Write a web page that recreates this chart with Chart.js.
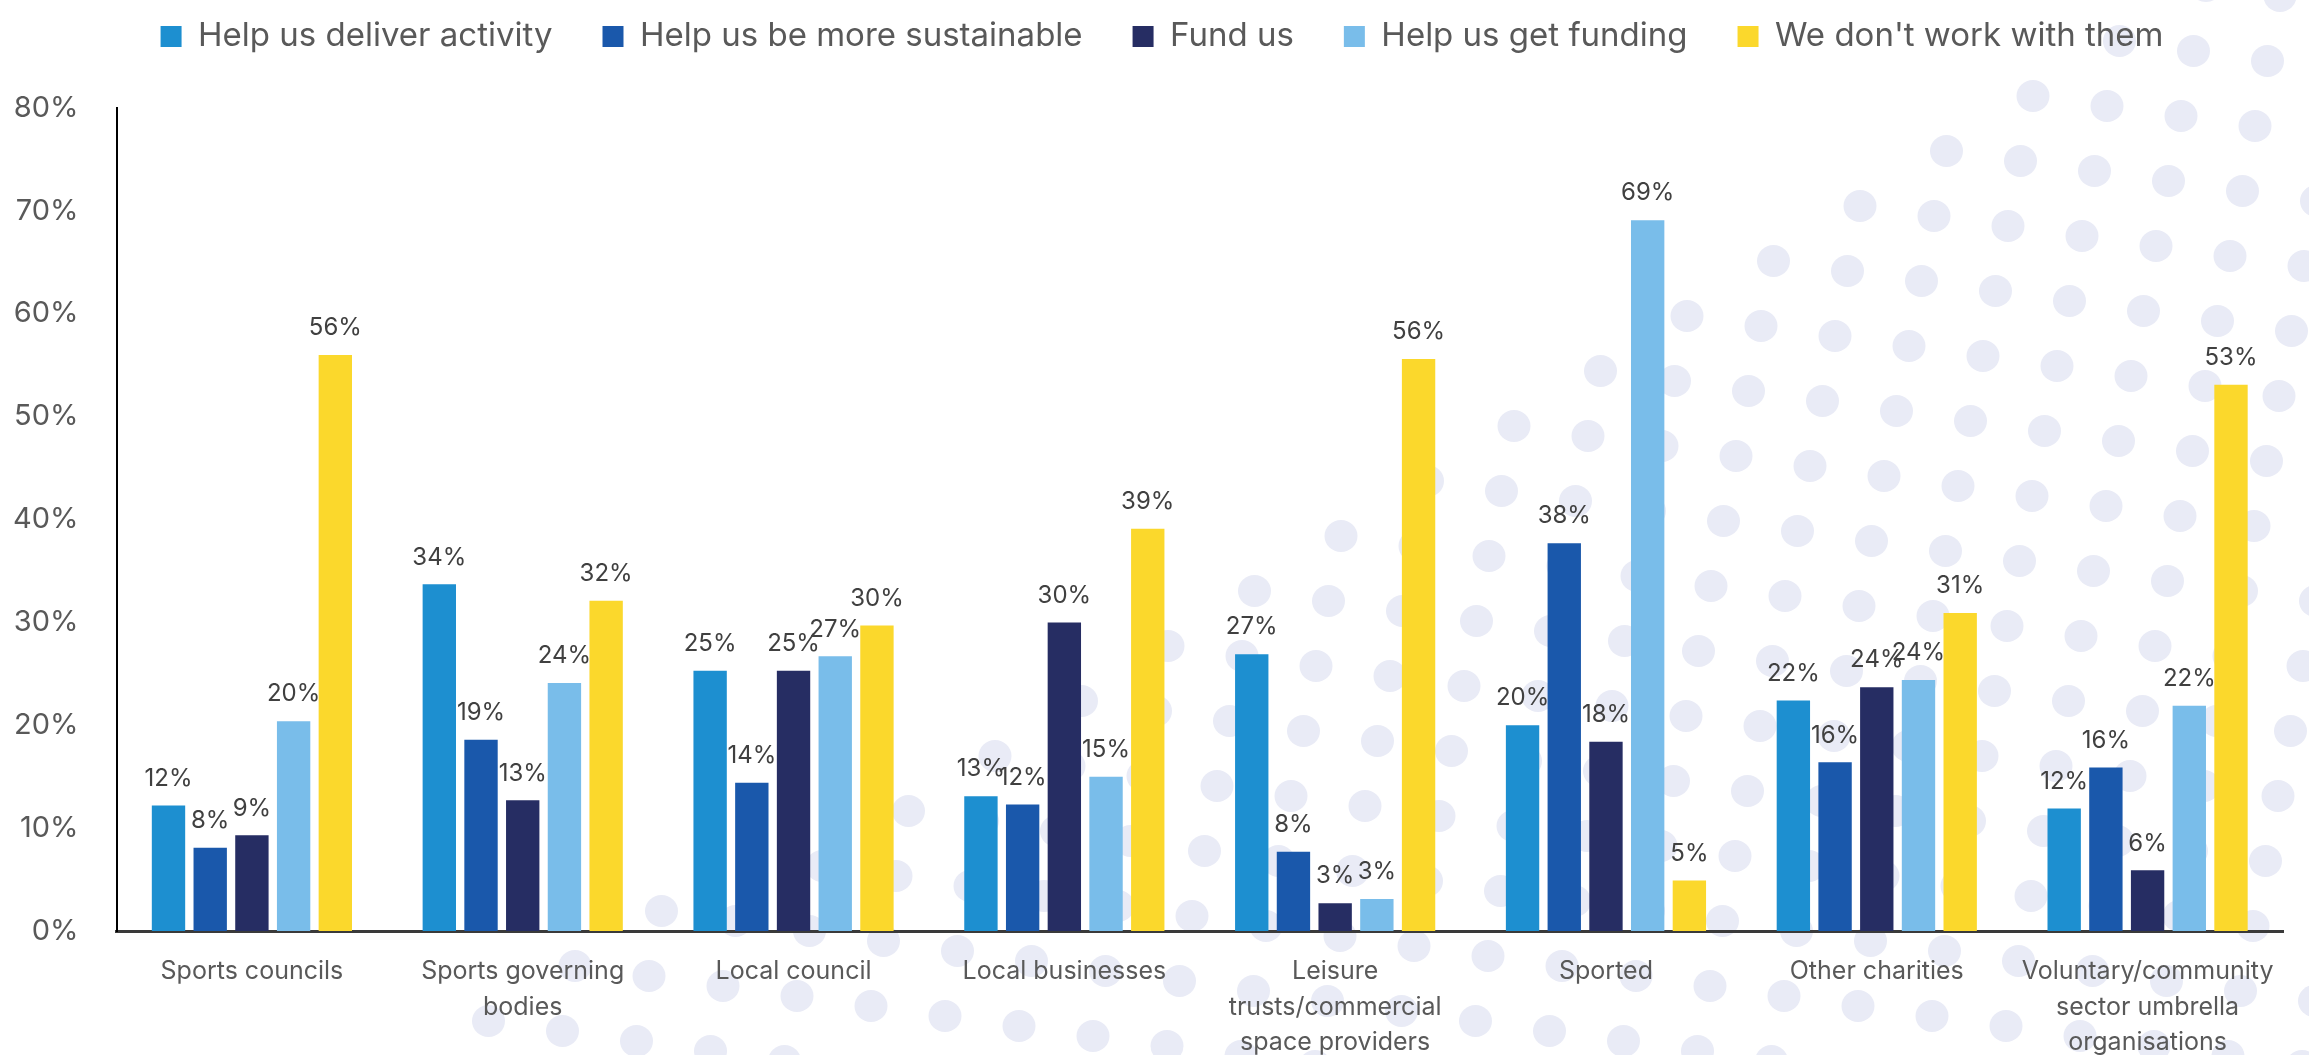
<!DOCTYPE html>
<html>
<head>
<meta charset="utf-8">
<script src="https://cdn.jsdelivr.net/npm/chart.js@4.4.0/dist/chart.umd.min.js"></script>
<style>
  html, body { margin: 0; padding: 0; background: #fff; }
  #wrap { width: 2309px; height: 1055px; }
</style>
</head>
<body>
<div id="wrap"><canvas id="barChart1"></canvas></div>
<script>
// categorias del eje x (con saltos de linea como en el original)
const categorias = [
  'Sports councils',
  ['Sports governing', 'bodies'],
  'Local council',
  'Local businesses',
  ['Leisure', 'trusts/commercial', 'space providers'],
  'Sported',
  'Other charities',
  ['Voluntary/community', 'sector umbrella', 'organisations']
];

const seriesNombres = ['Help us deliver activity', 'Help us be more sustainable', 'Fund us', 'Help us get funding', "We don't work with them"];
const seriesColores = ['#1d8fd0', '#1a58ab', '#262d63', '#79bdea', '#fbd82c'];

// valores en %
const deliverActivity = [12.2, 33.7, 25.3, 13.1, 26.9, 20.0, 22.4, 11.9];
const moreSustainable = [8.1, 18.6, 14.4, 12.3, 7.7, 37.7, 16.4, 15.9];
const fundUs = [9.3, 12.7, 25.3, 30.0, 2.7, 18.4, 23.7, 5.9];
const getFunding = [20.4, 24.1, 26.7, 15.0, 3.1, 69.1, 24.4, 21.9];
const dontWork = [56.0, 32.1, 29.7, 39.1, 55.6, 4.9, 30.9, 53.1];

const yTicks = [0, 10, 20, 30, 40, 50, 60, 70, 80];

const valores = [deliverActivity, moreSustainable, fundUs, getFunding, dontWork];

// fondo blanco + puntos decorativos
const fondoPuntos = {
  id: 'fondoPuntos',
  beforeDraw(chart) {
    const ctx = chart.ctx;
    const W = chart.width, H = chart.height;
    ctx.save();
    ctx.fillStyle = '#ffffff';
    ctx.fillRect(0, 0, W, H);
    ctx.fillStyle = 'rgb(233,235,246)';
    const ox = 2033, oy = 96;
    for (let j = -30; j <= 30; j++) {
      for (let i = -60; i <= 30; i++) {
        const x = ox + i * 74 - j * 12.5;
        const y = oy + i * 10 + j * 65;
        if (x < -30 || x > W + 30 || y < -30 || y > H + 30) continue;
        const borde = ox - (y - oy) * 1.668;
        if (x < borde - 15) continue;
        ctx.beginPath();
        ctx.ellipse(x, y, 16.5, 16, 0, 0, Math.PI * 2);
        ctx.fill();
      }
    }
    ctx.restore();
  }
};

// etiquetas de valor encima de cada barra
const etiquetasValor = {
  id: 'etiquetasValor',
  afterDatasetsDraw(chart) {
    const ctx = chart.ctx;
    ctx.save();
    ctx.font = '24px Inter';
    ctx.fillStyle = '#404040';
    ctx.textAlign = 'center';
    ctx.textBaseline = 'middle';
    chart.data.datasets.forEach((ds, i) => {
      const meta = chart.getDatasetMeta(i);
      meta.data.forEach((bar, k) => {
        ctx.fillText(Math.round(ds.data[k]) + '%', bar.x, bar.y - 27);
      });
    });
    ctx.restore();
  }
};

// espacio extra debajo de la leyenda y leyenda centrada en la pagina
const margenLeyenda = {
  id: 'margenLeyenda',
  beforeInit(chart) {
    const fit = chart.legend.fit;
    chart.legend.fit = function () {
      fit.bind(chart.legend)();
      this.height += 45;
    };
  },
  afterLayout(chart) {
    chart.legend.left += 33;
    chart.legend.right += 33;
  }
};

const ctx = document.getElementById('barChart1');

new Chart(ctx, {
  type: 'bar',
  data: {
    labels: categorias,
    datasets: seriesNombres.map((nombre, i) => ({
      label: nombre,
      data: valores[i],
      backgroundColor: seriesColores[i],
      borderWidth: 0,
      categoryPercentage: 0.77,
      barPercentage: 0.8
    }))
  },
  options: {
    responsive: true,
    maintainAspectRatio: false,
    animation: false,
    layout: {
      padding: { top: -30, left: -25, right: 26, bottom: 0 }
    },
    scales: {
      x: {
        grid: { display: false, drawTicks: false },
        border: { display: true, color: '#3a3a3a', width: 3 },
        ticks: {
          color: '#595959',
          font: { family: 'Inter', size: 25, lineHeight: 1.42 },
          padding: 23,
          maxRotation: 0,
          autoSkip: false
        },
        afterFit(scale) {
          scale.height = 124;
        }
      },
      y: {
        min: 0,
        max: 80,
        grid: { display: false, drawTicks: false },
        border: { display: true, color: '#000000', width: 2 },
        afterBuildTicks(scale) {
          scale.ticks = yTicks.map(v => ({ value: v }));
        },
        ticks: {
          color: '#595959',
          font: { family: 'Inter', size: 29 },
          padding: 38,
          callback: v => v + '%'
        }
      }
    },
    plugins: {
      legend: {
        position: 'top',
        labels: {
          color: '#595959',
          font: { family: 'Inter', size: 33 },
          boxWidth: 21,
          boxHeight: 21,
          padding: 50
        }
      },
      tooltip: { enabled: false }
    }
  },
  plugins: [fondoPuntos, etiquetasValor, margenLeyenda]
});
</script>
</body>
</html>
